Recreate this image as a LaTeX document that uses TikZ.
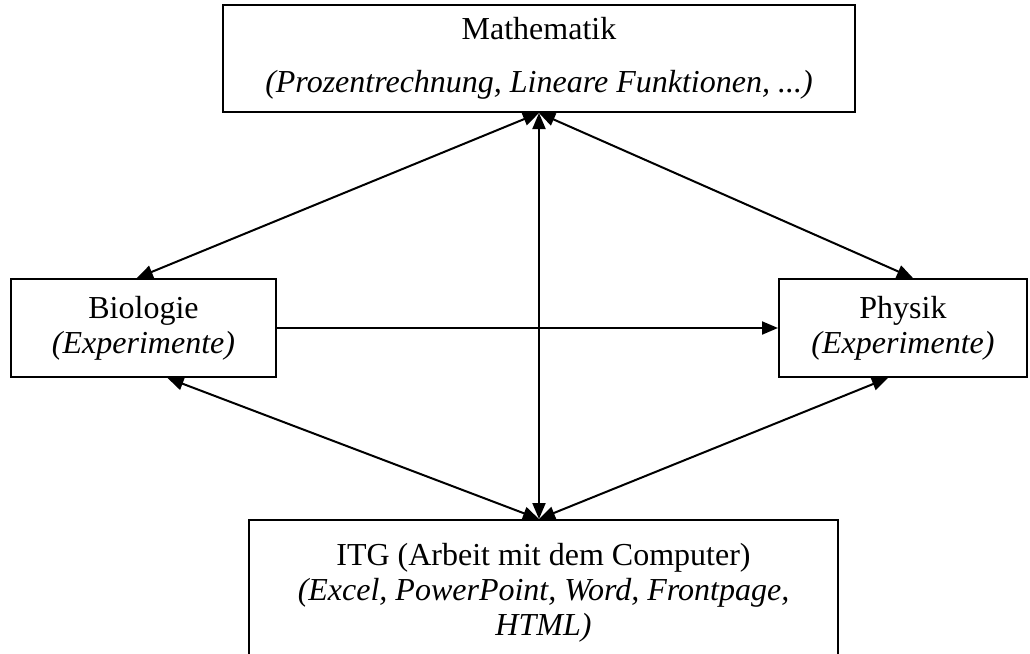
\documentclass[tikz,border=0pt]{standalone}
\usepackage{fontspec}
\setmainfont{Liberation Serif}
\usetikzlibrary{arrows.meta,calc}
\begin{document}
\begin{tikzpicture}[x=0.5pt,y=-0.5pt,
  box/.style={draw=black,line width=1pt,rectangle,inner sep=0pt,align=center,
    font=\fontsize{16}{17.5}\selectfont},
  lbl/.style={inner sep=0pt,align=center,font=\fontsize{16}{17.5}\selectfont},
  link/.style={line width=1pt,{Triangle[length=8pt,width=6.5pt]}-{Triangle[length=8pt,width=6.5pt]}},
  onelink/.style={line width=1pt,-{Triangle[length=8pt,width=6.5pt]}}]
\useasboundingbox (0,0) rectangle (1030,654);
\clip (0,0) rectangle (1030,654);
\node[box,minimum width=316pt,minimum height=53.5pt] (math) at (539,58.5)
  {Mathematik\\[9pt]\textit{(Prozentrechnung, Lineare Funktionen, ...)}};
\node[box,minimum width=132.5pt,minimum height=49pt] (bio) at (143.5,328)
  {Biologie\\\textit{(Experimente)}};
\node[box,minimum width=124pt,minimum height=49pt] (phys) at (903,328)
  {Physik\\\textit{(Experimente)}};
\node[box,anchor=north,minimum width=294.5pt,minimum height=110pt] (itg) at (543.5,519) {};
\node[lbl,anchor=north] (itgt) at (543.5,543)
  {ITG (Arbeit mit dem Computer)\\\textit{(Excel, PowerPoint, Word, Frontpage,}\\\textit{HTML)}};
\coordinate (mb) at (math.south);
\coordinate (it) at (itg.north -| math.south);
\coordinate (bt) at ($(bio.north west)!0.475!(bio.north east)$);
\coordinate (bb) at ($(bio.south west)!0.59!(bio.south east)$);
\coordinate (pt) at ($(phys.north west)!0.54!(phys.north east)$);
\coordinate (pb) at ($(phys.south west)!0.44!(phys.south east)$);
\draw[link] (mb) -- (bt);
\draw[link] (mb) -- (pt);
\draw[link] (mb) -- (it);
\draw[link] (bb) -- (it);
\draw[link] (pb) -- (it);
\draw[onelink] (bio.east) -- (phys.west);
\end{tikzpicture}
\end{document}
